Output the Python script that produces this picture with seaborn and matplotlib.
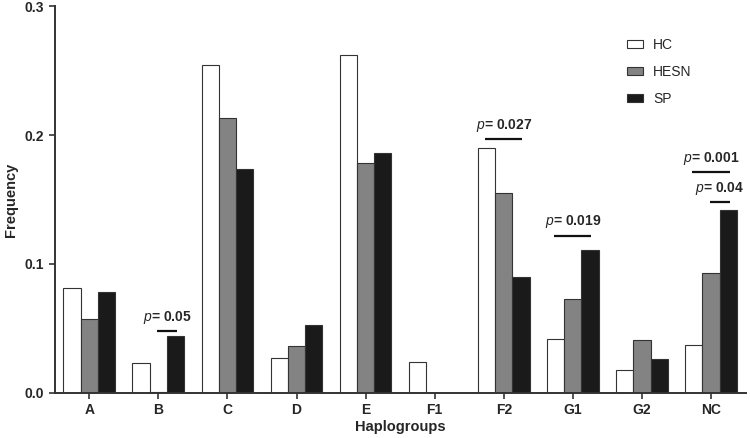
import numpy as np
import pandas as pd
import matplotlib
matplotlib.use('Agg')
import matplotlib.pyplot as plt
import seaborn as sns

# haplogroup frequencies
haplogroups = ['A', 'B', 'C', 'D', 'E', 'F1', 'F2', 'G1', 'G2', 'NC']
groups = ['HC', 'HESN', 'SP']
hc = [0.081, 0.023, 0.254, 0.027, 0.262, 0.024, 0.190, 0.042, 0.018, 0.037]
hesn = [0.057, 0.001, 0.213, 0.036, 0.178, 0.0, 0.155, 0.073, 0.041, 0.093]
sp = [0.078, 0.044, 0.174, 0.053, 0.186, 0.0, 0.090, 0.111, 0.026, 0.142]

# significance brackets: (haplogroup, from group, to group, height, label)
sig = [('B', 'HESN', 'SP', 0.048, '0.05'),
       ('F2', 'HC', 'SP', 0.197, '0.027'),
       ('G1', 'HC', 'SP', 0.122, '0.019'),
       ('NC', 'HC', 'SP', 0.171, '0.001'),
       ('NC', 'HESN', 'SP', 0.148, '0.04')]

sns.set_style('ticks')
plt.rcParams['font.family'] = ['Liberation Sans', 'DejaVu Sans']
plt.rcParams['mathtext.fontset'] = 'custom'
plt.rcParams['mathtext.it'] = 'Liberation Sans:italic'
plt.rcParams['mathtext.rm'] = 'Liberation Sans'

df = pd.DataFrame({'Haplogroup': haplogroups * 3,
                   'Group': sum([[g] * len(haplogroups) for g in groups], []),
                   'Frequency': hc + hesn + sp})

fig = plt.figure(figsize=(7.5, 4.38), dpi=100)
ax = fig.add_axes([0.073, 0.103, 0.921, 0.883])
palette = {'HC': '#ffffff', 'HESN': '#838383', 'SP': '#1a1a1a'}
sns.barplot(data=df, x='Haplogroup', y='Frequency', hue='Group', order=haplogroups,
            hue_order=groups, palette=palette, width=0.75, gap=0,
            edgecolor='#333333', linewidth=0.8, ax=ax)

ax.set_ylim(0, 0.3)
ax.set_xlim(-0.5, 9.5)
ax.set_yticks([0.0, 0.1, 0.2, 0.3])
ax.set_yticklabels(['0.0', '0.1', '0.2', '0.3'])
for lab in ax.get_xticklabels() + ax.get_yticklabels():
    lab.set_fontweight('bold')
    lab.set_fontsize(10)
ax.tick_params(axis='both', direction='out', length=4, width=1.2, color='#333333')
ax.set_xlabel('Haplogroups', fontsize=10.5, fontweight='bold', labelpad=2)
ax.set_ylabel('Frequency', fontsize=10.5, fontweight='bold', labelpad=5)
sns.despine(ax=ax)
for s in ['left', 'bottom']:
    ax.spines[s].set_linewidth(1.4)
    ax.spines[s].set_color('#333333')

# brackets
bw = 0.25
offs = {'HC': -bw, 'HESN': 0.0, 'SP': bw}
for hg, g1, g2, h, txt in sig:
    i = haplogroups.index(hg)
    x1 = i + offs[g1] - 0.02
    x2 = i + offs[g2] + 0.02
    ax.plot([x1, x2], [h, h], color='#111111', lw=1.6, solid_capstyle='butt')
    ax.text((x1 + x2) / 2, h + 0.004, r'$p$= ' + txt, ha='center', va='bottom',
            fontsize=10, fontweight='bold')

leg = ax.legend(loc='upper right', bbox_to_anchor=(0.94, 0.95), frameon=False,
                fontsize=10, handlelength=1.2, handleheight=0.5, labelspacing=0.95,
                handletextpad=0.7)
leg.set_title(None)

fig.savefig('out.png', dpi=100)
